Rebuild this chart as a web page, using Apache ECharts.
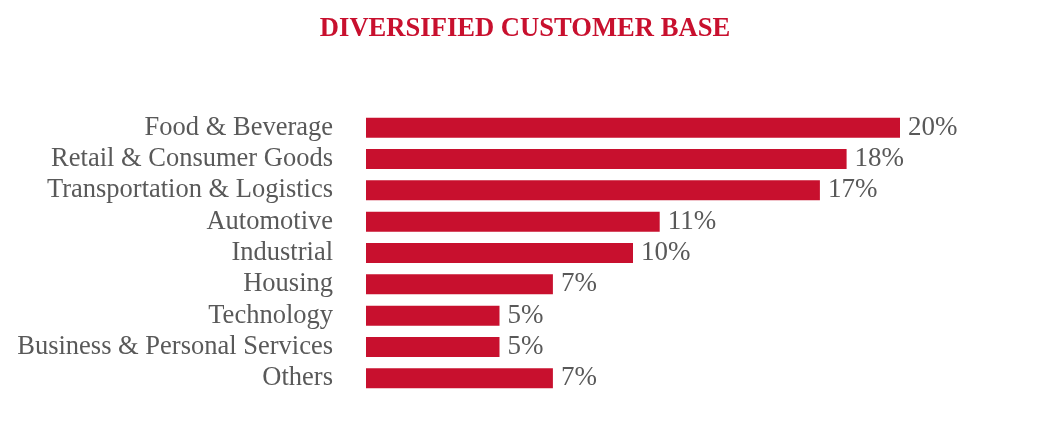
<!DOCTYPE html>
<html><head><meta charset="utf-8">
<script src="https://cdn.jsdelivr.net/npm/echarts@6/dist/echarts.min.js"></script>
<style>html,body{margin:0;padding:0;background:#fff}#c{width:1050px;height:430px}</style>
</head><body><div id="c"></div>
<script>
const categories = ["Food & Beverage","Retail & Consumer Goods","Transportation & Logistics","Automotive","Industrial","Housing","Technology","Business & Personal Services","Others"];
const values = [20,18,17,11,10,7,5,5,7];
const chart = echarts.init(document.getElementById('c'));
chart.setOption({
  animation:false,
  title:{text:'DIVERSIFIED CUSTOMER BASE',left:'center',top:11,
    textStyle:{fontFamily:'Liberation Serif',fontWeight:'bold',fontSize:26.6,color:'#C8102E'}},
  grid:{left:366,right:150,top:112,bottom:36,containLabel:false},
  xAxis:{type:'value',min:0,max:20,show:false},
  yAxis:{type:'category',data:categories,inverse:true,
    axisLine:{show:false},axisTick:{show:false},
    axisLabel:{interval:0,margin:33,padding:[4,0,0,0],fontFamily:'Liberation Serif',fontSize:26.5,color:'#595959'}},
  series:[{type:'bar',data:values,barWidth:20,itemStyle:{color:'#C8102E'},
    label:{show:true,position:'right',distance:8,formatter:'{c}%',fontFamily:'Liberation Serif',fontSize:27,color:'#595959'}}]
});
</script></body></html>
